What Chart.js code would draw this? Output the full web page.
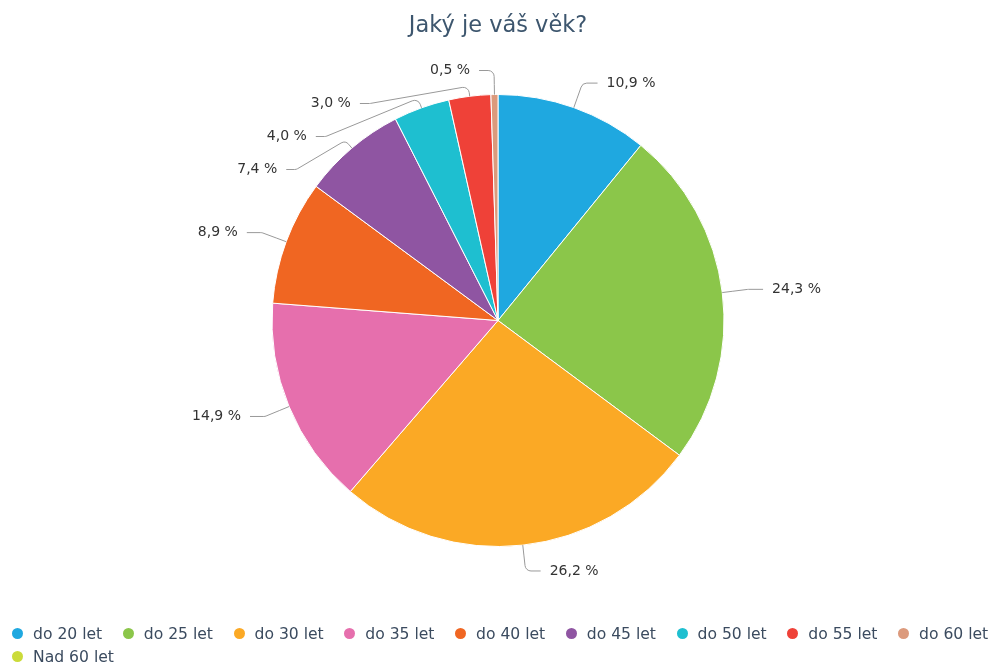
<!DOCTYPE html>
<html>
<head>
<meta charset="utf-8">
<script src="https://cdn.jsdelivr.net/npm/chart.js@4/dist/chart.umd.min.js"></script>
<style>
html, body { margin: 0; padding: 0; background: #fff; }
#wrap { position: relative; width: 991px; height: 669px; overflow: hidden; }
#legend {
    position: absolute; left: 12px; top: 622px; width: 986px;
    display: flex; flex-wrap: wrap; column-gap: 20.5px; row-gap: 0;
    font: 15.6px "DejaVu Sans"; color: #3b4b5f;
}
.item { display: flex; align-items: center; height: 23px; white-space: nowrap; }
.dot { flex: 0 0 11px; width: 11px; height: 11px; border-radius: 50%; margin-right: 10px; }
</style>
</head>
<body>
<div id="wrap">
    <canvas id="age-chart" width="991" height="669"></canvas>
    <div id="legend"></div>
</div>
<script>
const categories = ['do 20 let', 'do 25 let', 'do 30 let', 'do 35 let', 'do 40 let',
                    'do 45 let', 'do 50 let', 'do 55 let', 'do 60 let', 'Nad 60 let'];
const shares = [10.9, 24.3, 26.2, 14.9, 8.9, 7.4, 4.0, 3.0, 0.5, 0];
const sliceColors = ['#1fa8e0', '#8bc64a', '#fba925', '#e66fad', '#f06622',
                     '#8f55a2', '#1ebfd0', '#ef4138', '#dc9a7c', '#cbdb3a'];

// labels outside the pie with leader lines, pushed apart when they collide
const outsideLabels = {
    id: 'outsideLabels',
    afterDatasetsDraw(chart) {
        const ctx = chart.ctx;
        const meta = chart.getDatasetMeta(0);
        const items = [];
        meta.data.forEach((arc, i) => {
            const v = chart.data.datasets[0].data[i];
            if (!v) return;
            const p = arc.getProps(['x', 'y', 'startAngle', 'endAngle', 'outerRadius'], true);
            const a = (p.startAngle + p.endAngle) / 2;
            const R = p.outerRadius + 26;
            items.push({
                v: v, a: a, cx: p.x, cy: p.y, r: p.outerRadius, R: R,
                x: p.x + Math.cos(a) * R, y: p.y + Math.sin(a) * R,
                right: Math.cos(a) >= 0, moved: false
            });
        });
        [true, false].forEach(side => {
            const list = items.filter(it => it.right === side).sort((a, b) => a.y - b.y);
            let prev = -Infinity;
            list.forEach(it => {
                const minY = it.cy - it.R + 2;
                const y = Math.max(it.y, prev + 33, minY);
                if (y - it.y > 12) {
                    const dy = y - it.cy;
                    const dx = Math.sqrt(Math.max(0, it.R * it.R - dy * dy));
                    it.x = it.cx + (side ? dx : -dx);
                    it.moved = true;
                }
                it.y = y;
                prev = y;
            });
        });

        ctx.save();
        ctx.strokeStyle = '#999';
        ctx.lineWidth = 1;
        ctx.font = '14px "DejaVu Sans"';
        ctx.fillStyle = '#333';
        ctx.textBaseline = 'middle';
        items.forEach(it => {
            const c = Math.cos(it.a), s = Math.sin(it.a);
            const dir = it.right ? 1 : -1;
            const ax = it.cx + c * it.r, ay = it.cy + s * it.r;
            const bx = it.cx + c * (it.r + 10), by = it.cy + s * (it.r + 10);
            const ex = it.x + dir * (it.moved ? 10 : 15);
            ctx.beginPath();
            ctx.moveTo(ax, ay);
            ctx.arcTo(bx, by, it.x, it.y, 6);
            ctx.arcTo(it.x, it.y, ex, it.y, 6);
            ctx.lineTo(ex, it.y);
            ctx.stroke();
            ctx.textAlign = it.right ? 'left' : 'right';
            const txt = it.v.toFixed(1).replace('.', ',') + ' %';
            ctx.fillText(txt, ex + dir * 9, it.y);
        });
        ctx.restore();
    }
};

const chart = new Chart(document.getElementById('age-chart'), {
    type: 'pie',
    data: {
        labels: categories,
        datasets: [{
            data: shares,
            backgroundColor: sliceColors,
            borderColor: '#fff',
            borderWidth: 1,
            radius: 226
        }]
    },
    options: {
        responsive: false,
        devicePixelRatio: 1,
        animation: false,
        layout: { padding: { left: 5, right: 0, top: 0, bottom: 78 } },
        plugins: {
            legend: { display: false },
            tooltip: { enabled: false },
            title: {
                display: true,
                text: 'Jaký je váš věk?',
                color: '#3d566e',
                font: { family: 'DejaVu Sans', size: 22.5, weight: 'normal' },
                padding: { top: 13, bottom: 10 }
            }
        }
    },
    plugins: [outsideLabels]
});

// html legend built from the chart data
const legendBox = document.getElementById('legend');
categories.forEach((name, i) => {
    const item = document.createElement('div');
    item.className = 'item';
    const dot = document.createElement('span');
    dot.className = 'dot';
    dot.style.background = sliceColors[i];
    item.appendChild(dot);
    item.appendChild(document.createTextNode(name));
    legendBox.appendChild(item);
});
</script>
</body>
</html>
